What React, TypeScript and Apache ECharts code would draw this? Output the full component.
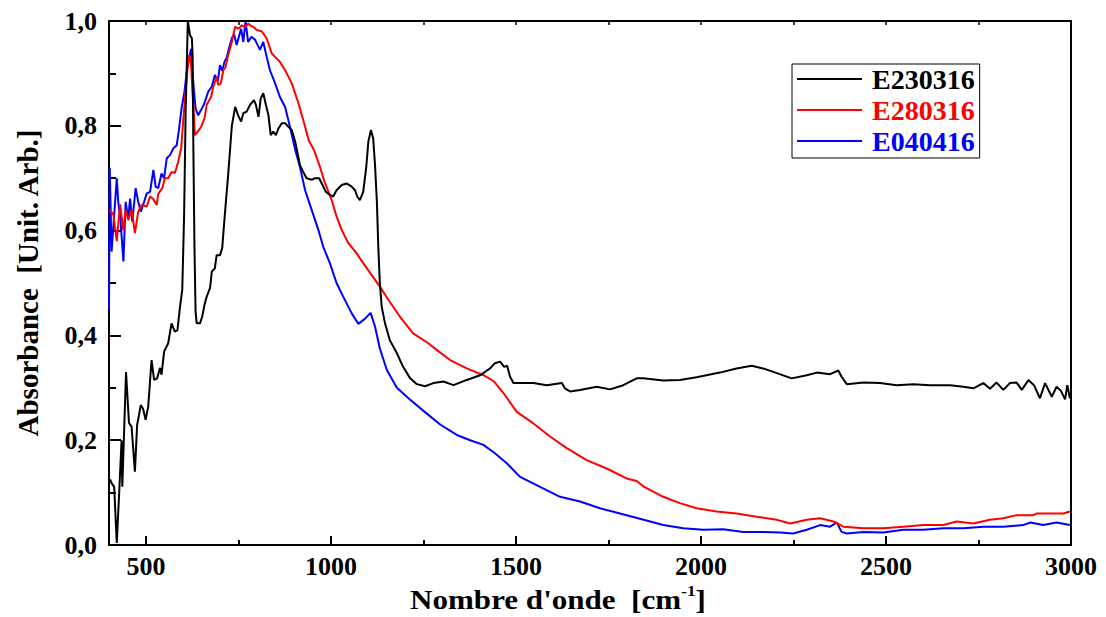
import React, { useEffect, useRef } from "react";
import * as echarts from "echarts";

const seriesNames = ["E230316", "E280316", "E040416"];
const seriesColors = ["#000000", "#ff0000", "#0000ff"];

const black: [number, number][] = [
  [400, 0.12], [403, 0.125], [407, 0.118], [414, 0.111], [421, 0.004], [427, 0.092], [434, 0.2], [436, 0.111],
  [446, 0.33], [454, 0.233], [461, 0.226], [470, 0.14], [476, 0.229], [486, 0.267], [492, 0.26], [499, 0.239],
  [506, 0.264], [515, 0.353], [522, 0.315], [530, 0.318], [538, 0.338], [542, 0.325], [549, 0.369], [560, 0.385],
  [569, 0.423], [578, 0.407], [585, 0.41], [592, 0.455], [598, 0.487], [603, 0.63], [607, 0.82], [613, 1.0],
  [619, 0.973], [624, 0.967], [626, 0.935], [628, 0.758], [631, 0.567], [634, 0.445], [637, 0.423], [646, 0.423],
  [652, 0.436], [658, 0.458], [664, 0.474], [673, 0.49], [678, 0.522], [686, 0.528], [691, 0.553], [700, 0.553],
  [706, 0.567], [713, 0.63], [722, 0.706], [732, 0.8], [741, 0.836], [749, 0.82], [757, 0.808], [763, 0.824],
  [772, 0.827], [781, 0.84], [792, 0.849], [797, 0.84], [804, 0.817], [810, 0.852], [817, 0.862], [824, 0.84],
  [831, 0.82], [837, 0.782], [844, 0.789], [851, 0.782], [858, 0.795], [867, 0.805], [876, 0.805], [885, 0.798],
  [894, 0.792], [903, 0.77], [909, 0.75], [916, 0.725], [925, 0.712], [934, 0.7], [948, 0.697], [957, 0.7],
  [968, 0.7], [977, 0.687], [986, 0.674], [997, 0.668], [1006, 0.665], [1015, 0.677], [1029, 0.687], [1042, 0.69],
  [1056, 0.684], [1065, 0.677], [1071, 0.665], [1078, 0.658], [1087, 0.674], [1095, 0.719], [1101, 0.77], [1108, 0.792],
  [1114, 0.776], [1119, 0.725], [1124, 0.655], [1128, 0.566], [1132, 0.5], [1137, 0.455], [1146, 0.423], [1159, 0.391],
  [1178, 0.366], [1195, 0.34], [1214, 0.318], [1232, 0.307], [1254, 0.303], [1277, 0.309], [1304, 0.312], [1331, 0.305],
  [1367, 0.315], [1403, 0.324], [1430, 0.337], [1443, 0.347], [1457, 0.35], [1468, 0.34], [1476, 0.342], [1484, 0.321],
  [1493, 0.309], [1511, 0.309], [1547, 0.309], [1583, 0.305], [1624, 0.309], [1632, 0.299], [1646, 0.293], [1673, 0.296],
  [1718, 0.302], [1754, 0.297], [1790, 0.305], [1826, 0.318], [1844, 0.318], [1898, 0.314], [1943, 0.315], [1988, 0.32],
  [2051, 0.329], [2096, 0.337], [2137, 0.342], [2168, 0.337], [2205, 0.328], [2245, 0.318], [2286, 0.324], [2313, 0.329],
  [2349, 0.326], [2371, 0.333], [2380, 0.321], [2394, 0.307], [2439, 0.31], [2484, 0.309], [2529, 0.305], [2574, 0.307],
  [2619, 0.305], [2673, 0.305], [2709, 0.302], [2736, 0.299], [2763, 0.309], [2781, 0.298], [2799, 0.31], [2817, 0.296],
  [2835, 0.309], [2853, 0.31], [2867, 0.296], [2885, 0.315], [2900, 0.305], [2916, 0.28], [2930, 0.309], [2948, 0.283],
  [2961, 0.302], [2972, 0.295], [2984, 0.278], [2990, 0.305], [2997, 0.28],
];

const red: [number, number][] = [
  [402, 0.64], [412, 0.63], [421, 0.58], [430, 0.65], [439, 0.6], [445, 0.64], [452, 0.62], [461, 0.64],
  [470, 0.595], [479, 0.636], [488, 0.649], [502, 0.646], [511, 0.665], [520, 0.66], [529, 0.649], [533, 0.67],
  [544, 0.681], [551, 0.7], [560, 0.7], [569, 0.712], [578, 0.71], [587, 0.731], [595, 0.757], [601, 0.814],
  [607, 0.865], [613, 0.916], [617, 0.935], [622, 0.916], [625, 0.872], [629, 0.827], [632, 0.782], [640, 0.789],
  [649, 0.798], [658, 0.814], [664, 0.84], [676, 0.855], [682, 0.875], [691, 0.894], [695, 0.878], [702, 0.88],
  [709, 0.906], [715, 0.912], [722, 0.935], [732, 0.96], [741, 0.989], [750, 0.985], [759, 0.992], [767, 0.988],
  [776, 0.995], [785, 0.99], [790, 0.989], [799, 0.983], [813, 0.98], [826, 0.967], [840, 0.938], [862, 0.922],
  [876, 0.906], [894, 0.881], [912, 0.843], [925, 0.811], [940, 0.772], [954, 0.754], [970, 0.722], [984, 0.69],
  [1002, 0.658], [1015, 0.627], [1029, 0.601], [1047, 0.576], [1069, 0.557], [1087, 0.538], [1110, 0.515], [1132, 0.493],
  [1155, 0.468], [1186, 0.436], [1222, 0.404], [1263, 0.385], [1290, 0.37], [1322, 0.353], [1367, 0.337], [1412, 0.324],
  [1441, 0.312], [1466, 0.29], [1502, 0.254], [1547, 0.232], [1592, 0.207], [1637, 0.185], [1691, 0.162], [1745, 0.146],
  [1799, 0.127], [1826, 0.122], [1844, 0.112], [1898, 0.092], [1943, 0.08], [1988, 0.07], [2042, 0.064], [2096, 0.06],
  [2150, 0.054], [2205, 0.048], [2241, 0.041], [2286, 0.048], [2322, 0.051], [2358, 0.045], [2385, 0.035], [2439, 0.032],
  [2493, 0.032], [2547, 0.035], [2601, 0.038], [2655, 0.038], [2691, 0.045], [2736, 0.041], [2781, 0.048], [2817, 0.051],
  [2853, 0.057], [2898, 0.057], [2907, 0.06], [2943, 0.06], [2979, 0.06], [2997, 0.064],
];

const blue: [number, number][] = [
  [400, 0.45], [402, 0.72], [407, 0.56], [414, 0.63], [421, 0.7], [425, 0.655], [431, 0.62], [439, 0.541],
  [445, 0.655], [452, 0.623], [457, 0.661], [463, 0.617], [472, 0.681], [479, 0.655], [486, 0.636], [495, 0.655],
  [502, 0.671], [511, 0.674], [520, 0.716], [526, 0.684], [533, 0.681], [542, 0.709], [549, 0.7], [556, 0.738],
  [565, 0.744], [574, 0.757], [583, 0.763], [589, 0.792], [596, 0.833], [604, 0.865], [610, 0.903], [616, 0.929],
  [622, 0.947], [625, 0.909], [629, 0.872], [634, 0.833], [641, 0.82], [651, 0.833], [658, 0.843], [668, 0.865],
  [678, 0.875], [686, 0.897], [694, 0.885], [700, 0.916], [706, 0.905], [712, 0.922], [718, 0.93], [724, 0.947],
  [732, 0.967], [738, 0.975], [745, 0.954], [751, 0.97], [757, 0.985], [763, 0.96], [769, 1.0], [776, 0.96],
  [785, 0.97], [795, 0.964], [808, 0.945], [817, 0.96], [826, 0.932], [835, 0.906], [849, 0.881], [862, 0.855],
  [876, 0.836], [889, 0.798], [903, 0.755], [916, 0.722], [930, 0.677], [948, 0.639], [966, 0.601], [979, 0.569],
  [997, 0.538], [1015, 0.5], [1033, 0.474], [1056, 0.442], [1074, 0.422], [1092, 0.432], [1107, 0.443], [1119, 0.417],
  [1132, 0.375], [1151, 0.334], [1178, 0.3], [1214, 0.277], [1250, 0.256], [1295, 0.23], [1340, 0.21], [1376, 0.2],
  [1412, 0.191], [1443, 0.175], [1475, 0.156], [1511, 0.13], [1565, 0.111], [1619, 0.092], [1673, 0.083], [1727, 0.07],
  [1781, 0.06], [1835, 0.05], [1898, 0.038], [1952, 0.032], [2006, 0.029], [2060, 0.03], [2114, 0.025], [2168, 0.025],
  [2214, 0.024], [2249, 0.022], [2286, 0.029], [2322, 0.038], [2349, 0.035], [2367, 0.043], [2380, 0.025], [2394, 0.022],
  [2439, 0.025], [2493, 0.024], [2547, 0.029], [2601, 0.029], [2655, 0.032], [2709, 0.032], [2763, 0.035], [2817, 0.035],
  [2871, 0.038], [2890, 0.043], [2925, 0.038], [2961, 0.043], [2997, 0.038],
];

const xMajorTicks = [500, 1000, 1500, 2000, 2500, 3000];
const xMinorTicks = [750, 1250, 1750, 2250, 2750];
const xAllTicks = [500, 750, 1000, 1250, 1500, 1750, 2000, 2250, 2500, 2750, 3000];

const xTitleMain = "Nombre d'onde  [cm";
const xTitleSup = "-1";
const xTitleEnd = "]";
const yTitle = "Absorbance  [Unit. Arb.]";

const FONT = "'Liberation Serif', 'Times New Roman', serif";

function measure(text: string, size: number): number {
  const c = document.createElement("canvas").getContext("2d");
  if (!c) return text.length * size * 0.5;
  c.font = `bold ${size}px 'Liberation Serif'`;
  return c.measureText(text).width;
}

export default function App() {
  const ref = useRef<HTMLDivElement>(null);
  useEffect(() => {
    if (!ref.current) return;
    const chart = echarts.init(ref.current, null, { renderer: "svg" });
    const axisLine = { show: true, lineStyle: { color: "#000", width: 2 } };
    const seriesData = [black, red, blue];

    const tSize = 27;
    const sSize = 15;
    const sx = 1.15;
    const wMain = measure(xTitleMain, tSize) * sx;
    const wSup = measure(xTitleSup, sSize) * sx;
    const wEnd = measure(xTitleEnd, tSize) * sx;
    const total = wMain + wSup + wEnd;
    const x0 = 558 - total / 2;
    const ty = 600;

    chart.setOption({
      animation: false,
      backgroundColor: "#fff",
      grid: { left: 109, right: 35, top: 21, bottom: 72, containLabel: false },
      legend: {
        orient: "vertical",
        left: 792,
        top: 64,
        padding: [1, 5, 3, 5],
        itemGap: 3,
        itemWidth: 65,
        itemHeight: 14,
        borderColor: "#000",
        borderWidth: 1,
        backgroundColor: "#fff",
        data: seriesNames.map((n, i) => ({
          name: n,
          icon: "path://M0,0 L100,0 L100,3 L0,3 Z",
          textStyle: { color: seriesColors[i] },
        })),
        textStyle: { fontFamily: FONT, fontWeight: "bold", fontSize: 28, padding: [0, 0, 0, 5] },
      },
      xAxis: [
        {
          type: "value",
          min: 400,
          max: 3000,
          position: "bottom",
          axisLine,
          splitLine: { show: false },
          axisTick: { show: true, inside: true, length: 9, customValues: xMajorTicks, lineStyle: { color: "#000", width: 2 } },
          axisLabel: {
            customValues: xMajorTicks,
            color: "#000",
            fontFamily: FONT,
            fontWeight: "bold",
            fontSize: 26,
            margin: 8,
            formatter: (v: number) => String(v),
          },
        },
        {
          type: "value",
          min: 400,
          max: 3000,
          position: "bottom",
          axisLine: { show: false },
          splitLine: { show: false },
          axisTick: { show: true, inside: true, length: 5, customValues: xMinorTicks, lineStyle: { color: "#000", width: 2 } },
          axisLabel: { show: false },
        },
        {
          type: "value",
          min: 400,
          max: 3000,
          position: "top",
          axisLine,
          splitLine: { show: false },
          axisTick: { show: true, inside: true, length: 4, customValues: xAllTicks, lineStyle: { color: "#000", width: 1.5 } },
          axisLabel: { show: false },
        },
      ],
      yAxis: [
        {
          type: "value",
          min: 0,
          max: 1,
          interval: 0.2,
          position: "left",
          axisLine,
          splitLine: { show: false },
          axisTick: { show: true, inside: true, length: 12, lineStyle: { color: "#000", width: 2 } },
          minorTick: { show: true, splitNumber: 2, length: 7, lineStyle: { color: "#000", width: 2 } },
          axisLabel: {
            color: "#000",
            fontFamily: FONT,
            fontWeight: "bold",
            fontSize: 26,
            margin: 12,
            formatter: (v: number) => v.toFixed(1).replace(".", ","),
          },
        },
        {
          type: "value",
          min: 0,
          max: 1,
          position: "right",
          axisLine,
          splitLine: { show: false },
          axisTick: { show: false },
          axisLabel: { show: false },
        },
      ],
      graphic: [
        {
          type: "text",
          x: x0,
          y: ty,
          scaleX: sx,
          style: {
            text: xTitleMain,
            align: "left",
            verticalAlign: "middle",
            fontFamily: FONT,
            fontWeight: "bold",
            fontSize: tSize,
            fill: "#000",
          },
        },
        {
          type: "text",
          x: x0 + wMain,
          y: ty - 9,
          scaleX: sx,
          style: {
            text: xTitleSup,
            align: "left",
            verticalAlign: "middle",
            fontFamily: FONT,
            fontWeight: "bold",
            fontSize: sSize,
            fill: "#000",
          },
        },
        {
          type: "text",
          x: x0 + wMain + wSup,
          y: ty,
          scaleX: sx,
          style: {
            text: xTitleEnd,
            align: "left",
            verticalAlign: "middle",
            fontFamily: FONT,
            fontWeight: "bold",
            fontSize: tSize,
            fill: "#000",
          },
        },
        {
          type: "text",
          x: 28,
          y: 283,
          rotation: Math.PI / 2,
          style: {
            text: yTitle,
            align: "center",
            verticalAlign: "middle",
            fontFamily: FONT,
            fontWeight: "bold",
            fontSize: 29,
            fill: "#000",
          },
        },
      ],
      series: seriesNames.map((n, i) => ({
        name: n,
        type: "line",
        xAxisIndex: 0,
        yAxisIndex: 0,
        data: seriesData[i],
        symbol: "none",
        lineStyle: { color: seriesColors[i], width: 2 },
        itemStyle: { color: seriesColors[i] },
        z: 3 - i,
      })),
    });
    return () => chart.dispose();
  }, []);
  return <div ref={ref} style={{ position: "fixed", left: 0, top: 0, width: 1106, height: 617, background: "#fff" }} />;
}
